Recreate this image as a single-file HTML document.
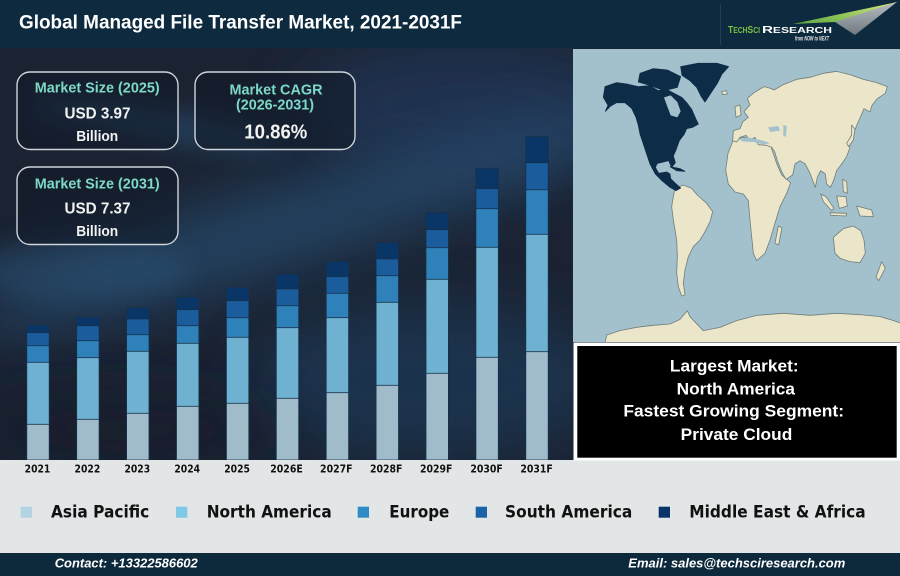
<!DOCTYPE html>
<html>
<head>
<meta charset="utf-8">
<style>
html,body{margin:0;padding:0;background:#1b2333;overflow:hidden;}
svg{display:block;}
.lb{font-family:"Liberation Sans",Arial,sans-serif;font-weight:bold;}
.dj{font-family:"DejaVu Sans","Liberation Sans",sans-serif;font-weight:bold;}
</style>
</head>
<body>
<svg width="900" height="576" viewBox="0 0 900 576" xmlns="http://www.w3.org/2000/svg">
<defs>
  <filter id="bl30" x="-60%" y="-60%" width="220%" height="220%"><feGaussianBlur stdDeviation="28"/></filter>
  <filter id="bl12" x="-60%" y="-60%" width="220%" height="220%"><feGaussianBlur stdDeviation="12"/></filter>
  <clipPath id="chartClip"><rect x="0" y="48" width="573" height="412"/></clipPath>
  <clipPath id="mapClip"><rect x="573" y="49" width="327" height="293"/></clipPath>
  <linearGradient id="wing" x1="0" y1="1" x2="1" y2="0">
    <stop offset="0" stop-color="#5fa844"/>
    <stop offset="1" stop-color="#d4e87a"/>
  </linearGradient>
  <linearGradient id="wing2" x1="0" y1="0" x2="0" y2="1">
    <stop offset="0" stop-color="#b5bcc0"/>
    <stop offset="1" stop-color="#6f7a80"/>
  </linearGradient>
</defs>

<!-- header -->
<rect x="0" y="0" width="900" height="48.5" fill="#0e2a3e"/>
<text class="lb" x="19" y="28.5" font-size="19" fill="#ffffff" textLength="443" lengthAdjust="spacingAndGlyphs">Global Managed File Transfer Market, 2021-2031F</text>
<line x1="720.5" y1="4" x2="720.5" y2="45" stroke="#22405a" stroke-width="1"/>
<!-- logo -->
<polygon points="793,24 897,2 870,17 835,22" fill="url(#wing)"/>
<polygon points="835,22 897,2 855,35" fill="url(#wing2)"/>
<text class="lb" x="728" y="33" fill="#7cc142" textLength="32" lengthAdjust="spacingAndGlyphs"><tspan font-size="10">T</tspan><tspan font-size="8">ECH</tspan><tspan font-size="10">S</tspan><tspan font-size="8">CI</tspan></text>
<text class="lb" x="762" y="33" fill="#ffffff" textLength="70" lengthAdjust="spacingAndGlyphs"><tspan font-size="10">R</tspan><tspan font-size="8">ESEARCH</tspan></text>
<text class="lb" x="795" y="40.5" font-size="6.5" font-style="italic" font-weight="normal" fill="#e6e6e6" textLength="34" lengthAdjust="spacingAndGlyphs">from NOW to NEXT</text>

<!-- chart background -->
<g clip-path="url(#chartClip)">
  <rect x="0" y="48" width="573" height="412" fill="#1b2333"/>
  <ellipse cx="470" cy="105" rx="170" ry="65" fill="#21395a" opacity="0.7" filter="url(#bl30)"/>
  <ellipse cx="290" cy="225" rx="340" ry="42" fill="#2b5b84" opacity="0.55" transform="rotate(-17 290 225)" filter="url(#bl30)"/>
  <ellipse cx="430" cy="380" rx="180" ry="75" fill="#1f3d5d" opacity="0.6" filter="url(#bl30)"/>
  <ellipse cx="160" cy="125" rx="130" ry="16" fill="#2f5d86" opacity="0.45" transform="rotate(10 160 125)" filter="url(#bl12)"/>
  <ellipse cx="80" cy="270" rx="110" ry="30" fill="#2a5377" opacity="0.45" filter="url(#bl12)"/>
  <ellipse cx="120" cy="430" rx="160" ry="40" fill="#161d2b" opacity="0.7" filter="url(#bl30)"/>
</g>

<!-- info boxes -->
<g fill="#111a28" fill-opacity="0.55" stroke="#cfd5da" stroke-width="1.4">
  <rect x="17" y="72" width="161" height="77.5" rx="13"/>
  <rect x="195" y="72" width="160" height="77.5" rx="13"/>
  <rect x="17" y="167" width="161" height="77.5" rx="13"/>
</g>
<g class="lb" text-anchor="middle">
  <text x="97.2" y="92.7" font-size="15" fill="#7dd8c6" textLength="125" lengthAdjust="spacingAndGlyphs">Market Size (2025)</text>
  <text x="97.5" y="118.3" font-size="16" fill="#f2f2f2" textLength="66" lengthAdjust="spacingAndGlyphs">USD 3.97</text>
  <text x="97.2" y="141" font-size="15" fill="#f2f2f2" textLength="42" lengthAdjust="spacingAndGlyphs">Billion</text>
  <text x="276" y="94.3" font-size="15" fill="#7dd8c6" textLength="93" lengthAdjust="spacingAndGlyphs">Market CAGR</text>
  <text x="275" y="109.5" font-size="15" fill="#7dd8c6" textLength="78" lengthAdjust="spacingAndGlyphs">(2026-2031)</text>
  <text x="275.8" y="138.3" font-size="20" fill="#f2f2f2" textLength="63" lengthAdjust="spacingAndGlyphs">10.86%</text>
  <text x="97.2" y="188.3" font-size="15" fill="#7dd8c6" textLength="125" lengthAdjust="spacingAndGlyphs">Market Size (2031)</text>
  <text x="97.5" y="213.3" font-size="16" fill="#f2f2f2" textLength="66" lengthAdjust="spacingAndGlyphs">USD 7.37</text>
  <text x="97.2" y="236" font-size="15" fill="#f2f2f2" textLength="42" lengthAdjust="spacingAndGlyphs">Billion</text>
</g>

<!-- bars: drawn tallest segment first (top to base), then lower segments over -->
<g stroke="#17314b" stroke-width="0.8">
  <!-- MEA -->
  <g fill="#0a3567">
    <rect x="26.8" y="325" width="22.4" height="135"/>
    <rect x="76.7" y="317.3" width="22.4" height="142.7"/>
    <rect x="126.6" y="308" width="22.4" height="152"/>
    <rect x="176.5" y="297.3" width="22.4" height="162.7"/>
    <rect x="226.4" y="287.3" width="22.4" height="172.7"/>
    <rect x="276.3" y="274.3" width="22.4" height="185.7"/>
    <rect x="326.2" y="261.7" width="22.4" height="198.3"/>
    <rect x="376.1" y="242.7" width="22.4" height="217.3"/>
    <rect x="426" y="212.7" width="22.4" height="247.3"/>
    <rect x="475.9" y="168.3" width="22.4" height="291.7"/>
    <rect x="525.8" y="136.7" width="22.4" height="323.3"/>
  </g>
  <!-- South America -->
  <g fill="#1b5d9c">
    <rect x="26.8" y="332.7" width="22.4" height="127.3"/>
    <rect x="76.7" y="325.7" width="22.4" height="134.3"/>
    <rect x="126.6" y="319" width="22.4" height="141"/>
    <rect x="176.5" y="309.7" width="22.4" height="150.3"/>
    <rect x="226.4" y="300.7" width="22.4" height="159.3"/>
    <rect x="276.3" y="289" width="22.4" height="171"/>
    <rect x="326.2" y="276.7" width="22.4" height="183.3"/>
    <rect x="376.1" y="259" width="22.4" height="201"/>
    <rect x="426" y="229.7" width="22.4" height="230.3"/>
    <rect x="475.9" y="188.7" width="22.4" height="271.3"/>
    <rect x="525.8" y="162.7" width="22.4" height="297.3"/>
  </g>
  <!-- Europe -->
  <g fill="#2e81b9">
    <rect x="26.8" y="345.7" width="22.4" height="114.3"/>
    <rect x="76.7" y="340.7" width="22.4" height="119.3"/>
    <rect x="126.6" y="334.7" width="22.4" height="125.3"/>
    <rect x="176.5" y="325.7" width="22.4" height="134.3"/>
    <rect x="226.4" y="317.7" width="22.4" height="142.3"/>
    <rect x="276.3" y="305.7" width="22.4" height="154.3"/>
    <rect x="326.2" y="293.3" width="22.4" height="166.7"/>
    <rect x="376.1" y="275.7" width="22.4" height="184.3"/>
    <rect x="426" y="247.7" width="22.4" height="212.3"/>
    <rect x="475.9" y="208.7" width="22.4" height="251.3"/>
    <rect x="525.8" y="189.7" width="22.4" height="270.3"/>
  </g>
  <!-- North America -->
  <g fill="#6eb1d0">
    <rect x="26.8" y="362.3" width="22.4" height="97.7"/>
    <rect x="76.7" y="357.7" width="22.4" height="102.3"/>
    <rect x="126.6" y="351.3" width="22.4" height="108.7"/>
    <rect x="176.5" y="343.3" width="22.4" height="116.7"/>
    <rect x="226.4" y="337.3" width="22.4" height="122.7"/>
    <rect x="276.3" y="327.7" width="22.4" height="132.3"/>
    <rect x="326.2" y="317.7" width="22.4" height="142.3"/>
    <rect x="376.1" y="302.3" width="22.4" height="157.7"/>
    <rect x="426" y="279.3" width="22.4" height="180.7"/>
    <rect x="475.9" y="247.3" width="22.4" height="212.7"/>
    <rect x="525.8" y="234.3" width="22.4" height="225.7"/>
  </g>
  <!-- Asia Pacific -->
  <g fill="#a0bccb">
    <rect x="26.8" y="424.3" width="22.4" height="35.7"/>
    <rect x="76.7" y="419.3" width="22.4" height="40.7"/>
    <rect x="126.6" y="413.3" width="22.4" height="46.7"/>
    <rect x="176.5" y="406.3" width="22.4" height="53.7"/>
    <rect x="226.4" y="403.3" width="22.4" height="56.7"/>
    <rect x="276.3" y="398.3" width="22.4" height="61.7"/>
    <rect x="326.2" y="392.7" width="22.4" height="67.3"/>
    <rect x="376.1" y="385.3" width="22.4" height="74.7"/>
    <rect x="426" y="373.3" width="22.4" height="86.7"/>
    <rect x="475.9" y="357.3" width="22.4" height="102.7"/>
    <rect x="525.8" y="351.7" width="22.4" height="108.3"/>
  </g>
</g>

<!-- map -->
<g clip-path="url(#mapClip)">
  <rect x="573" y="49" width="327" height="293" fill="#a3c0cd"/>
  <g transform="translate(570 40) scale(0.33333)" stroke="#6f7e78" stroke-width="2.4" stroke-linejoin="round">
    <g fill="#ebe5ca">
      <path d="M315,445 L340,435 L365,445 L382,465 L410,490 L428,515 L420,545 L405,575 L390,600 L370,620 L355,650 L345,690 L340,730 L345,765 L335,768 L325,740 L320,700 L322,650 L320,600 L310,540 L305,500 L310,470 Z"/>
      <path d="M490,300 L520,292 L560,296 L590,306 L600,312 L608,335 L620,370 L635,405 L662,428 L650,460 L630,500 L612,560 L600,600 L585,640 L560,662 L550,640 L545,590 L540,540 L535,482 L520,462 L495,456 L475,432 L467,390 L474,340 Z"/>
      <path d="M625,558 L636,563 L626,615 L615,610 Z"/>
      <path d="M488,302 L490,272 L510,266 L518,246 L535,232 L522,215 L540,195 L532,175 L552,158 L582,140 L602,145 L612,150 L640,134 L680,118 L720,112 L760,100 L800,94 L840,104 L880,118 L920,128 L952,140 L946,160 L922,176 L906,196 L900,216 L882,206 L872,230 L862,252 L850,282 L836,302 L840,322 L830,350 L815,372 L800,392 L792,418 L782,442 L770,432 L766,402 L752,392 L742,412 L736,442 L720,400 L706,372 L690,362 L675,372 L668,405 L648,418 L635,395 L622,362 L614,335 L605,322 L590,316 L565,314 L555,292 L540,300 L528,286 L510,292 L500,306 Z"/>
      <path d="M455,155 L470,152 L472,162 L458,164 Z"/>
      <path d="M495,200 L510,195 L513,225 L498,232 Z"/>
      <path d="M845,255 L855,268 L850,300 L836,320 L830,310 L845,285 Z"/>
      <path d="M752,462 L768,470 L792,505 L785,512 L760,485 Z"/>
      <path d="M800,468 L828,470 L832,498 L808,505 Z"/>
      <path d="M780,518 L830,520 L828,528 L782,526 Z"/>
      <path d="M860,498 L905,510 L910,530 L870,528 Z"/>
      <path d="M818,418 L830,425 L832,460 L820,455 Z"/>
      <path d="M790,592 L820,566 L850,558 L872,572 L882,600 L886,640 L870,668 L840,665 L812,656 L795,640 Z"/>
      <path d="M935,665 L946,685 L926,722 L918,712 Z"/>
      <path d="M105,910 L110,885 L150,872 L200,862 L250,856 L300,852 L330,838 L352,812 L360,830 L400,872 L450,862 L500,842 L560,826 L640,820 L720,826 L800,820 L870,824 L930,830 L965,840 L995,850 L995,915 Z"/>
    </g>
    <g fill="#a3c0cd" stroke="none">
      <path d="M505,298 L530,292 L555,296 L585,304 L600,310 L580,313 L550,306 L520,305 Z"/>
      <path d="M595,262 L625,258 L630,272 L600,276 Z"/>
      <path d="M640,255 L650,258 L648,290 L640,288 Z"/>
    </g>
    <g fill="#0d2c48" stroke="#0d2c48">
      <path d="M105,140 L140,128 L175,133 L205,140 L240,137 L265,152 L290,148 L312,160 L335,172 L350,188 L365,208 L378,238 L385,252 L368,262 L350,266 L343,282 L328,302 L318,330 L310,348 L316,368 L305,382 L296,362 L280,366 L262,370 L256,382 L266,400 L290,396 L300,402 L302,416 L316,430 L332,444 L318,452 L300,442 L276,422 L256,402 L240,372 L230,342 L220,312 L210,282 L205,256 L198,232 L185,205 L165,188 L140,188 L122,198 L106,214 L114,196 L100,172 Z"/>
      <path d="M210,100 L250,86 L292,90 L332,110 L322,142 L282,152 L240,136 L205,126 Z"/>
      <path d="M332,80 L382,70 L442,70 L476,80 L456,102 L442,130 L422,160 L405,186 L394,170 L380,142 L360,122 L336,106 Z"/>
      <path d="M300,380 L330,386 L345,394 L320,392 Z"/>
    </g>
    <path d="M282,172 L302,166 L322,186 L332,214 L322,232 L302,226 L292,200 Z" fill="#a3c0cd" stroke="none"/>
  </g>
</g>

<!-- bottom light area -->
<rect x="0" y="460" width="900" height="93" fill="#e2e6e7"/>

<!-- summary box -->
<rect x="573.5" y="342.5" width="326.5" height="118" fill="#ffffff"/>
<rect x="577.3" y="346" width="319.4" height="111.7" fill="#000000"/>
<g class="lb" text-anchor="middle" fill="#ffffff" font-size="17">
  <text x="734.3" y="371.3" textLength="128.7" lengthAdjust="spacingAndGlyphs">Largest Market:</text>
  <text x="735.8" y="394.3" textLength="118.3" lengthAdjust="spacingAndGlyphs">North America</text>
  <text x="733.7" y="416.7" textLength="220.7" lengthAdjust="spacingAndGlyphs">Fastest Growing Segment:</text>
  <text x="736.5" y="440" textLength="111.6" lengthAdjust="spacingAndGlyphs">Private Cloud</text>
</g>

<!-- tick labels -->
<g class="dj" font-size="10.5" fill="#111111" text-anchor="middle">
  <text x="37.5" y="472.7" textLength="25.7" lengthAdjust="spacingAndGlyphs">2021</text>
  <text x="87.4" y="472.7" textLength="25.7" lengthAdjust="spacingAndGlyphs">2022</text>
  <text x="137.3" y="472.7" textLength="25.7" lengthAdjust="spacingAndGlyphs">2023</text>
  <text x="187.2" y="472.7" textLength="25.7" lengthAdjust="spacingAndGlyphs">2024</text>
  <text x="237.1" y="472.7" textLength="25.7" lengthAdjust="spacingAndGlyphs">2025</text>
  <text x="286.5" y="472.7" textLength="32.5" lengthAdjust="spacingAndGlyphs">2026E</text>
  <text x="336.3" y="472.7" textLength="32.5" lengthAdjust="spacingAndGlyphs">2027F</text>
  <text x="386.2" y="472.7" textLength="32.5" lengthAdjust="spacingAndGlyphs">2028F</text>
  <text x="436.2" y="472.7" textLength="32.5" lengthAdjust="spacingAndGlyphs">2029F</text>
  <text x="486.6" y="472.7" textLength="32.5" lengthAdjust="spacingAndGlyphs">2030F</text>
  <text x="536.6" y="472.7" textLength="32.5" lengthAdjust="spacingAndGlyphs">2031F</text>
</g>

<!-- legend -->
<rect x="20.7" y="506.7" width="11.3" height="11" fill="#b3d3e2"/>
<rect x="176" y="506.7" width="11.3" height="11" fill="#7fc9e6"/>
<rect x="357.7" y="506.7" width="11.3" height="11" fill="#2f8bc5"/>
<rect x="475.7" y="506.7" width="11.3" height="11" fill="#1b62a6"/>
<rect x="658.7" y="506.7" width="11.3" height="11" fill="#08346a"/>
<g class="dj" font-size="16.5" fill="#111111">
  <text x="51" y="517.3" textLength="98.3" lengthAdjust="spacingAndGlyphs">Asia Pacific</text>
  <text x="206.7" y="517.3" textLength="125" lengthAdjust="spacingAndGlyphs">North America</text>
  <text x="389.3" y="517.3" textLength="60" lengthAdjust="spacingAndGlyphs">Europe</text>
  <text x="505" y="517.3" textLength="127.3" lengthAdjust="spacingAndGlyphs">South America</text>
  <text x="689.3" y="517.3" textLength="176.4" lengthAdjust="spacingAndGlyphs">Middle East &amp; Africa</text>
</g>

<!-- footer -->
<rect x="0" y="553" width="900" height="23" fill="#0d293c"/>
<g class="lb" font-size="13" font-style="italic" fill="#ffffff">
  <text x="54.7" y="567.3" textLength="143" lengthAdjust="spacingAndGlyphs">Contact: +13322586602</text>
  <text x="628.3" y="567.5" textLength="217" lengthAdjust="spacingAndGlyphs">Email: sales@techsciresearch.com</text>
</g>
</svg>
</body>
</html>
